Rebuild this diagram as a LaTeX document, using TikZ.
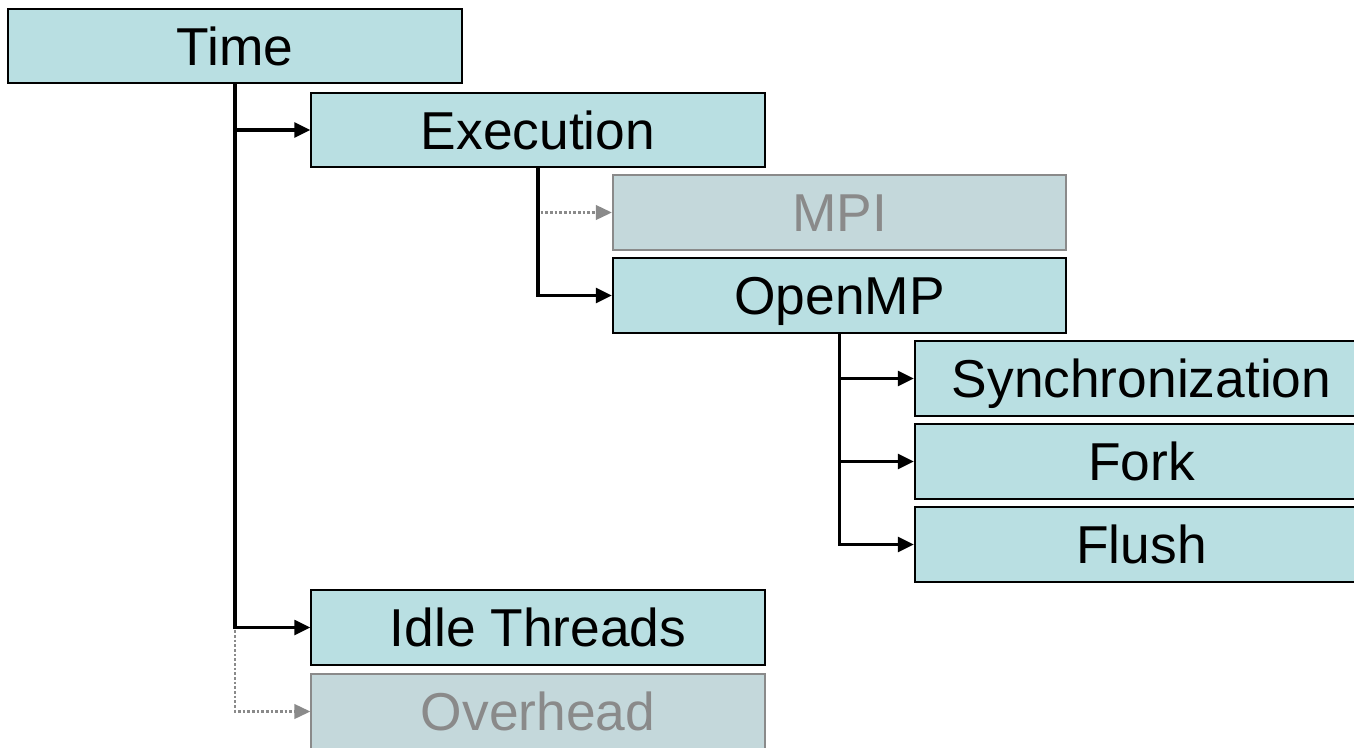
\documentclass[tikz,border=0pt]{standalone}
\usepackage{fontspec}
\setmainfont{Liberation Sans}
\usetikzlibrary{arrows.meta}
\definecolor{boxfill}{HTML}{B9DFE2}
\definecolor{greyfill}{HTML}{C4D8DB}
\definecolor{greyline}{HTML}{8A8A8A}
\tikzset{
  metric/.style={draw=black, line width=1.5pt, fill=boxfill, minimum width=340pt,
    minimum height=56pt, inner sep=0pt, text height=29pt, text depth=0pt,
    font=\fontsize{40}{48}\selectfont},
  hidden/.style={metric, draw=greyline, fill=greyfill, text=greyline},
  link/.style={line width=2.5pt, -{Triangle[length=12pt,width=11pt]}},
  hiddenlink/.style={line width=1.6pt, greyline, dash pattern=on 2pt off 1.5pt,
    -{Triangle[length=12pt,width=11pt]}}
}
\begin{document}
\begin{tikzpicture}[x=0.75pt,y=-0.75pt]
    \clip (0,0) rectangle (1354,747);
    % Boxes
    \node[metric] (time) at (235,46) {Time};
    \node[metric] (exec) at (538,130) {Execution};
    \node[hidden] (mpi) at (839.5,212.5) {MPI};
    \node[metric] (omp) at (839.5,295.5) {OpenMP};
    \node[metric] (sync) at (1141.5,378.5) {Synchronization};
    \node[metric] (fork) at (1141.5,461.5) {Fork};
    \node[metric] (flush) at (1141.5,544.5) {Flush};
    \node[metric] (idle) at (538,627.5) {Idle Threads};
    \node[hidden] (over) at (538,711.5) {Overhead};
    % Time children
    \draw[hiddenlink] (time.south) |- (over.west);
    \draw[link] (time.south) |- (idle.west);
    \draw[link] (time.south) |- (exec.west);
    % Execution children
    \draw[hiddenlink] (exec.south) |- (mpi.west);
    \draw[link] (exec.south) |- (omp.west);
    % OpenMP children
    \foreach \c in {sync,fork,flush}
        \draw[link] (omp.south) |- (\c.west);
\end{tikzpicture}
\end{document}
